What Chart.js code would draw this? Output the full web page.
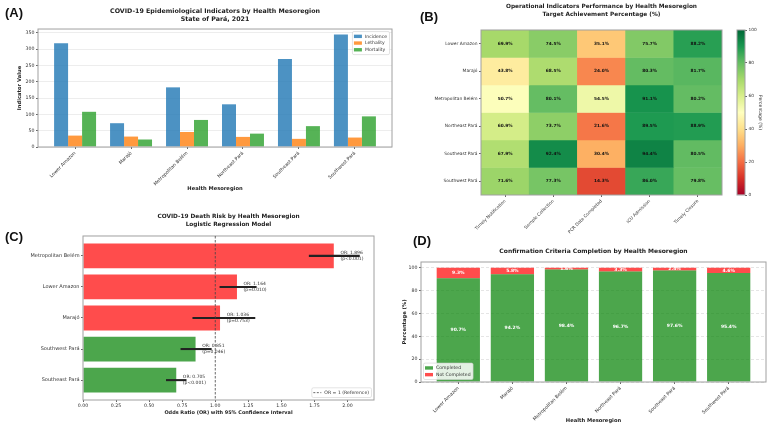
<!DOCTYPE html>
<html>
<head>
<meta charset="utf-8">
<script src="https://cdn.jsdelivr.net/npm/chart.js"></script>
<style>
  body { margin: 0; width: 767px; height: 429px; position: relative; background: #fff; overflow: hidden; }
  canvas { position: absolute; }
  .lbl { position: absolute; font: bold 13px "Liberation Sans", Arial, sans-serif; color: #111; }
</style>
</head>
<body>
<canvas id="cA" width="395" height="200" style="left:0;top:0"></canvas>
<canvas id="cB" width="340" height="240" style="left:390px;top:0"></canvas>
<canvas id="cBar" width="37" height="225" style="left:730px;top:0"></canvas>
<canvas id="cC" width="395" height="229" style="left:0;top:200px"></canvas>
<canvas id="cD" width="372" height="214" style="left:395px;top:215px"></canvas>
<div class="lbl" style="left:5px;top:5px">(A)</div>
<div class="lbl" style="left:420px;top:9px">(B)</div>
<div class="lbl" style="left:5px;top:229px">(C)</div>
<div class="lbl" style="left:413px;top:233px">(D)</div>
<script>
// ── Dados ──────────────────────────────────────────────────────
const regions = ['Lower Amazon', 'Marajó', 'Metropolitan Belém', 'Northeast Pará', 'Southeast Pará', 'Southwest Pará'];

// (A) indicadores epidemiológicos
const incidence = [318, 73, 183, 131, 270, 345];
const lethality = [35, 32, 46, 31, 25, 29];
const mortality = [108, 23, 83, 41, 64, 94];

// (B) indicadores operacionais (% da meta)
const opIndicators = ['Timely Notification', 'Sample Collection', 'PCR Date Completed', 'ICU Admission', 'Timely Closure'];
const opLowerAmazon = [69.9, 74.5, 35.1, 75.7, 88.2];
const opMarajo      = [43.8, 68.5, 24.0, 80.3, 81.7];
const opMetroBelem  = [50.7, 80.1, 54.5, 91.1, 80.2];
const opNortheast   = [60.9, 73.7, 21.6, 89.5, 88.9];
const opSoutheast   = [67.9, 92.4, 30.4, 94.4, 80.5];
const opSouthwest   = [71.6, 77.3, 14.3, 86.0, 79.8];
const opRows = [opLowerAmazon, opMarajo, opMetroBelem, opNortheast, opSoutheast, opSouthwest];
const cbRange = [0, 100];

// (C) regressão logística
const orRegions = ['Metropolitan Belém', 'Lower Amazon', 'Marajó', 'Southwest Pará', 'Southeast Pará'];
const orValues  = [1.896, 1.164, 1.036, 0.851, 0.705];
const orLow     = [1.71, 1.035, 0.83, 0.74, 0.63];
const orHigh    = [2.09, 1.31, 1.30, 0.97, 0.78];
const orP       = ['p<0.001', 'p=0.010', 'p=0.753', 'p=0.046', 'p<0.001'];

// (D) critério de confirmação
const completed    = [90.7, 94.2, 98.4, 96.7, 97.6, 95.4];
const notCompleted = [9.3, 5.8, 1.6, 3.3, 2.4, 4.6];

// ── Estilo ─────────────────────────────────────────────────────
Chart.defaults.font.family = '"DejaVu Sans", sans-serif';
Chart.defaults.color = '#333';
Chart.defaults.animation = false;
Chart.defaults.plugins.legend.display = false;
Chart.defaults.plugins.tooltip.enabled = false;

const TICK = { size: 4.7 };
const AXT = { size: 5.2, weight: 'bold' };
const RED = 'rgba(255,0,0,0.7)', GREEN = 'rgba(0,128,0,0.7)';

const RDYLGN = ['#a50026','#d73027','#f46d43','#fdae61','#fee08b','#ffffbf','#d9ef8b','#a6d96a','#66bd63','#1a9850','#006837'];
function hexRgb(h) { return [1, 3, 5].map(k => parseInt(h.slice(k, k + 2), 16)); }
function cmap(v) {
  const t = Math.max(0, Math.min(1, v / 100)) * 10;
  const i = Math.min(9, Math.floor(t)), f = t - i;
  const a = hexRgb(RDYLGN[i]), b = hexRgb(RDYLGN[i + 1]);
  return `rgb(${a.map((c, k) => Math.round(c + (b[k] - c) * f)).join(',')})`;
}

// ── Plugins ────────────────────────────────────────────────────
const frame = {
  id: 'frame',
  afterDatasetsDraw(chart) {
    const { ctx, chartArea: a } = chart;
    ctx.save();
    ctx.strokeStyle = '#a0a0a0'; ctx.lineWidth = 1;
    ctx.strokeRect(a.left, a.top, a.right - a.left, a.bottom - a.top);
    ctx.restore();
  }
};

const boxLegend = {
  id: 'boxLegend',
  afterDraw(chart, args, o) {
    if (!o.where) return;
    const items = o.items || chart.data.datasets.map(d => ({ label: d.label, color: d.backgroundColor }));
    const { ctx, chartArea: a } = chart;
    const fs = 4.6, rowH = 6.7, sw = 8, pad = 1.5;
    ctx.save();
    ctx.font = `${fs}px "DejaVu Sans"`;
    const tw = Math.max(...items.map(it => ctx.measureText(it.label).width));
    const w = pad * 2 + sw + 3 + tw + 1, h = pad * 2 + rowH * items.length;
    const x0 = o.where[1] === 'r' ? a.right - 2.5 - w : a.left + 2.5;
    const y0 = o.where[0] === 't' ? a.top + 2.5 : a.bottom - 2.5 - h;
    ctx.fillStyle = 'rgba(255,255,255,0.85)';
    ctx.strokeStyle = '#d0d0d0'; ctx.lineWidth = 0.6;
    ctx.beginPath(); ctx.roundRect(x0, y0, w, h, 1.5); ctx.fill(); ctx.stroke();
    items.forEach((it, k) => {
      const cy = y0 + pad + rowH * (k + 0.5);
      if (it.dash) {
        ctx.strokeStyle = '#444'; ctx.lineWidth = 0.8; ctx.setLineDash([2, 1.5]);
        ctx.beginPath(); ctx.moveTo(x0 + pad, cy); ctx.lineTo(x0 + pad + sw, cy); ctx.stroke();
        ctx.setLineDash([]);
      } else {
        ctx.fillStyle = it.color; ctx.fillRect(x0 + pad, cy - 1.7, sw, 3.4);
      }
      ctx.fillStyle = '#333'; ctx.textBaseline = 'middle'; ctx.textAlign = 'left';
      ctx.fillText(it.label, x0 + pad + sw + 3, cy);
    });
    ctx.restore();
  }
};

// linear index axis helper: ticks at integer positions labelled with names
function namedTicks(names, pos) {
  return s => { s.ticks = names.map((_, i) => ({ value: pos(i) })); };
}
// keep only ticks on the step (drops the axis limit)
function stepTicks(step) {
  return s => { s.ticks = s.ticks.filter(t => Math.abs(t.value / step - Math.round(t.value / step)) < 1e-6); };
}

// ── (A) ────────────────────────────────────────────────────────
new Chart(document.getElementById('cA'), {
  type: 'bar',
  data: {
    datasets: [
      { label: 'Incidence', data: incidence.map((v, i) => ({ x: i, y: v })), backgroundColor: 'rgba(31,119,180,0.8)' },
      { label: 'Lethality', data: lethality.map((v, i) => ({ x: i, y: v })), backgroundColor: 'rgba(255,127,14,0.8)' },
      { label: 'Mortality', data: mortality.map((v, i) => ({ x: i, y: v })), backgroundColor: 'rgba(44,160,44,0.8)' }
    ]
  },
  options: {
    responsive: false,
    layout: { padding: { left: 0, right: 3, top: 0, bottom: 7.8 } },
    datasets: { bar: { categoryPercentage: 0.75, barPercentage: 1 } },
    plugins: {
      title: { display: true, fullSize: false, text: ['COVID-19 Epidemiological Indicators by Health Mesoregion', 'State of Pará, 2021'],
               font: { size: 6.3, weight: 'bold', lineHeight: 1.16 }, color: '#222', padding: { top: 8.05, bottom: 6.35 } },
      boxLegend: { where: 'tr' }
    },
    scales: {
      x: {
        type: 'linear', min: -0.6625, max: 5.6625, bounds: 'data', offset: false,
        afterBuildTicks: namedTicks(regions, i => i), afterFit: s => { s.height = 45.2; },
        ticks: { callback: v => regions[v], autoSkip: false, maxRotation: 45, minRotation: 45, font: TICK, padding: 1.5 },
        grid: { offset: false, drawOnChartArea: false, tickLength: 2, color: '#666' }, border: { display: false },
        title: { display: true, text: 'Health Mesoregion', font: AXT, color: '#222', padding: 0 }
      },
      y: {
        min: 0, max: 362, bounds: 'data', afterBuildTicks: stepTicks(50), afterFit: s => { s.width = 38; },
        ticks: { stepSize: 50, font: TICK, padding: 1.5 },
        grid: { color: 'rgba(0,0,0,0.07)', tickColor: '#666', tickLength: 2 }, border: { display: false },
        title: { display: true, text: 'Indicator Value', font: AXT, color: '#222', padding: { top: 16.8, bottom: 0 } }
      }
    }
  },
  plugins: [frame, boxLegend]
});

// ── (B) heatmap ────────────────────────────────────────────────
const cellText = {
  id: 'cellText',
  afterDatasetsDraw(chart) {
    const { ctx } = chart;
    ctx.save();
    ctx.font = 'bold 4.3px "DejaVu Sans"'; ctx.fillStyle = '#111';
    ctx.textAlign = 'center'; ctx.textBaseline = 'middle';
    opRows.forEach((row, r) => {
      chart.getDatasetMeta(r).data.forEach((el, c) => {
        ctx.fillText(row[c].toFixed(1) + '%', el.x, (el.y + el.base) / 2);
      });
    });
    ctx.restore();
  }
};

new Chart(document.getElementById('cB'), {
  type: 'bar',
  data: {
    labels: opIndicators,
    datasets: opRows.map((row, r) => ({
      label: regions[r], data: row.map(() => [r, r + 1]), backgroundColor: row.map(cmap)
    }))
  },
  options: {
    responsive: false,
    layout: { padding: { left: 0, right: 8, top: 0, bottom: 0 } },
    datasets: { bar: { grouped: false, categoryPercentage: 1, barPercentage: 1, borderWidth: 0 } },
    plugins: {
      title: { display: true, fullSize: false, text: ['Operational Indicators Performance by Health Mesoregion', 'Target Achievement Percentage (%)'],
               font: { size: 5.8, weight: 'bold', lineHeight: 1.31 }, color: '#222', padding: { top: 2.9, bottom: 11.9 } }
    },
    scales: {
      x: {
        afterFit: s => { s.height = 45; },
        ticks: { autoSkip: false, maxRotation: 45, minRotation: 45, font: { size: 4.4 }, padding: 1.5 },
        grid: { offset: false, drawOnChartArea: false, tickLength: 2, color: '#666' }, border: { display: false }
      },
      y: {
        type: 'linear', min: 0, max: 6, reverse: true, bounds: 'data',
        afterBuildTicks: namedTicks(regions, i => i + 0.5), afterFit: s => { s.width = 91; },
        ticks: { callback: v => regions[Math.floor(v)], autoSkip: false, font: { size: 4.4 }, padding: 1.5 },
        grid: { drawOnChartArea: false, tickLength: 2, color: '#666' }, border: { display: false }
      }
    }
  },
  plugins: [cellText, frame]
});

// barra de cores
new Chart(document.getElementById('cBar'), {
  type: 'bar',
  data: {
    labels: ['cb'],
    datasets: [{
      data: [cbRange], borderWidth: 0,
      backgroundColor: ctx => {
        const a = ctx.chart.chartArea;
        if (!a) return '#ccc';
        const g = ctx.chart.ctx.createLinearGradient(0, a.bottom, 0, a.top);
        RDYLGN.forEach((c, k) => g.addColorStop(k / 10, c));
        return g;
      }
    }]
  },
  options: {
    responsive: false,
    layout: { padding: { left: 7, right: 0, top: 30, bottom: 30 } },
    datasets: { bar: { categoryPercentage: 1, barPercentage: 1 } },
    scales: {
      x: { display: false },
      y: {
        position: 'right', min: 0, max: 100, bounds: 'data', afterFit: s => { s.width = 22; },
        ticks: { stepSize: 20, font: { size: 4.3 }, padding: 1.5 },
        grid: { drawOnChartArea: false, tickLength: 2, color: '#666' }, border: { display: false },
        title: { display: true, text: 'Percentage (%)', font: { size: 4.6 }, color: '#333', padding: { top: 4.2, bottom: 0 } }
      }
    }
  },
  plugins: [frame]
});

// ── (C) odds ratio ─────────────────────────────────────────────
const nOR = orRegions.length;
const yPos = i => nOR - 1 - i;

const orExtras = {
  id: 'orExtras',
  afterDatasetsDraw(chart) {
    const { ctx, chartArea: a, scales: { x, y } } = chart;
    ctx.save();
    // linha de referência OR = 1
    const xr = x.getPixelForValue(1);
    ctx.strokeStyle = '#444'; ctx.lineWidth = 0.8; ctx.setLineDash([2.5, 1.5]);
    ctx.beginPath(); ctx.moveTo(xr, a.top); ctx.lineTo(xr, a.bottom); ctx.stroke();
    ctx.setLineDash([]);
    // rótulos
    ctx.font = '4.5px "DejaVu Sans"'; ctx.fillStyle = '#333';
    ctx.textAlign = 'left'; ctx.textBaseline = 'middle';
    orValues.forEach((v, i) => {
      const px = x.getPixelForValue(v + 0.05), py = y.getPixelForValue(yPos(i));
      ctx.fillText('OR: ' + v.toFixed(3), px, py - 2.8);
      ctx.fillText('(' + orP[i] + ')', px, py + 2.8);
    });
    ctx.restore();
  }
};

new Chart(document.getElementById('cC'), {
  type: 'bar',
  data: {
    datasets: [
      { label: '95% CI', data: orRegions.map((_, i) => ({ x: [orLow[i], orHigh[i]], y: yPos(i) })),
        backgroundColor: '#222', barThickness: 1.4, order: 0 },
      { label: 'OR', data: orValues.map((v, i) => ({ x: v, y: yPos(i) })),
        backgroundColor: orValues.map(v => v > 1 ? RED : GREEN), order: 1 }
    ]
  },
  options: {
    responsive: false, indexAxis: 'y',
    layout: { padding: { left: 0, right: 21, top: 0, bottom: 13.1 } },
    datasets: { bar: { grouped: false, categoryPercentage: 1, barPercentage: 0.8 } },
    plugins: {
      title: { display: true, fullSize: false, text: ['COVID-19 Death Risk by Health Mesoregion', 'Logistic Regression Model'],
               font: { size: 5.8, weight: 'bold', lineHeight: 1.31 }, color: '#222', padding: { top: 12.9, bottom: 7.9 } },
      boxLegend: { where: 'br', items: [{ label: 'OR = 1 (Reference)', dash: true }] }
    },
    scales: {
      x: {
        min: 0, max: 2.2, bounds: 'data', afterBuildTicks: stepTicks(0.25), afterFit: s => { s.height = 15.9; },
        ticks: { stepSize: 0.25, callback: v => v.toFixed(2), font: TICK, padding: 1, maxRotation: 0 },
        grid: { drawOnChartArea: false, tickLength: 2, color: '#666' }, border: { display: false },
        title: { display: true, text: 'Odds Ratio (OR) with 95% Confidence Interval', font: { size: 4.95, weight: 'bold' }, color: '#222', padding: 0 }
      },
      y: {
        type: 'linear', min: -0.64, max: 4.64, bounds: 'data', offset: false,
        afterBuildTicks: namedTicks(orRegions, yPos), afterFit: s => { s.width = 83; },
        ticks: { callback: v => orRegions[nOR - 1 - v], autoSkip: false, font: { size: 5 }, padding: 1.5 },
        grid: { offset: false, drawOnChartArea: false, tickLength: 2, color: '#666' }, border: { display: false }
      }
    }
  },
  plugins: [frame, orExtras, boxLegend]
});

// ── (D) critério de confirmação ────────────────────────────────
const stackText = {
  id: 'stackText',
  afterDatasetsDraw(chart) {
    const { ctx } = chart;
    ctx.save();
    ctx.font = 'bold 4.5px "DejaVu Sans"'; ctx.fillStyle = '#fff';
    ctx.textAlign = 'center'; ctx.textBaseline = 'middle';
    [completed, notCompleted].forEach((vals, d) => {
      chart.getDatasetMeta(d).data.forEach((el, i) => {
        ctx.fillText(vals[i].toFixed(1) + '%', el.x, (el.y + el.base) / 2);
      });
    });
    ctx.restore();
  }
};

new Chart(document.getElementById('cD'), {
  type: 'bar',
  data: {
    datasets: [
      { label: 'Completed', data: completed.map((v, i) => ({ x: i, y: v })), backgroundColor: GREEN },
      { label: 'Not Completed', data: notCompleted.map((v, i) => ({ x: i, y: v })), backgroundColor: RED }
    ]
  },
  options: {
    responsive: false,
    layout: { padding: { left: 0, right: 1, top: 0, bottom: 4.8 } },
    datasets: { bar: { categoryPercentage: 1, barPercentage: 0.8 } },
    plugins: {
      title: { display: true, fullSize: false, text: 'Confirmation Criteria Completion by Health Mesoregion',
               font: { size: 6, weight: 'bold', lineHeight: 1.3 }, color: '#222', padding: { top: 32.1, bottom: 7.1 } },
      boxLegend: { where: 'bl' }
    },
    scales: {
      x: {
        type: 'linear', stacked: true, min: -0.69, max: 5.69, bounds: 'data', offset: false,
        afterBuildTicks: namedTicks(regions, i => i), afterFit: s => { s.height = 42.2; },
        ticks: { callback: v => regions[v], autoSkip: false, maxRotation: 45, minRotation: 45, font: TICK, padding: 1.5 },
        grid: { offset: false, drawOnChartArea: false, tickLength: 2, color: '#666' }, border: { display: false },
        title: { display: true, text: 'Health Mesoregion', font: AXT, color: '#222', padding: 0 }
      },
      y: {
        stacked: true, min: 0, max: 105, bounds: 'data', afterBuildTicks: stepTicks(20), afterFit: s => { s.width = 26; },
        ticks: { stepSize: 20, font: TICK, padding: 1.5 },
        grid: { color: 'rgba(0,0,0,0.1)', tickColor: '#666', tickLength: 2 }, border: { display: false, dash: [3, 2] },
        title: { display: true, text: 'Percentage (%)', font: AXT, color: '#222', padding: { top: 6.8, bottom: 0 } }
      }
    }
  },
  plugins: [frame, stackText, boxLegend]
});
</script>
</body>
</html>
